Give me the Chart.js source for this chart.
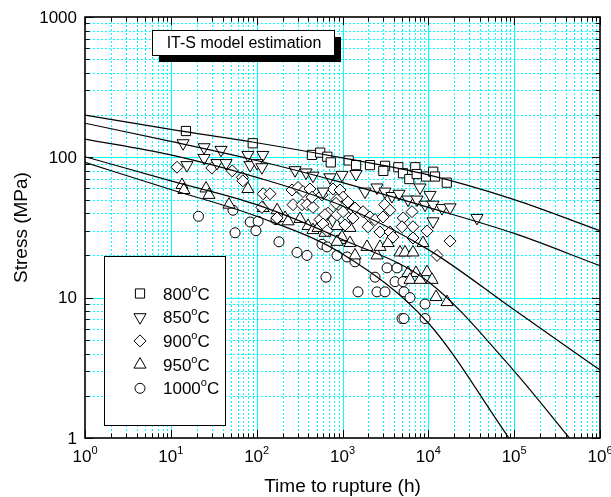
<!DOCTYPE html>
<html>
<head>
<meta charset="utf-8">
<script src="https://cdn.jsdelivr.net/npm/chart.js@4.4.1/dist/chart.umd.min.js"></script>
<style>
  html, body { margin: 0; padding: 0; background: #fff; }
  canvas { display: block; }
</style>
</head>
<body>
<canvas id="creepChart" width="611" height="497"></canvas>
<script>
// temperatures (legend order)
const temps = ["800", "850", "900", "950", "1000"];

// measured rupture data: [time (h), stress (MPa)]
const data800 = [[15, 154], [90, 126], [440, 104], [550, 108], [665, 101], [730, 92], [1180, 95],
  [1440, 88], [2090, 88], [3130, 87], [2990, 80], [4470, 85], [5070, 77], [6000, 70], [7050, 85],
  [7320, 76], [9400, 73], [11400, 79], [11960, 73], [16400, 66]];

const data850 = [[13.9, 126], [24.4, 118], [38.4, 113], [24.4, 99], [15.4, 88], [34.5, 91], [44, 91],
  [79, 104], [118, 104], [84, 88], [101, 91], [115, 85], [280, 81], [376, 78], [453, 74], [715, 72],
  [986, 75], [593, 57], [1436, 76], [1828, 57], [2521, 61], [3127, 57], [3773, 53], [4553, 55],
  [5800, 50], [7380, 50], [8000, 61], [10460, 54], [9150, 46], [11340, 46], [14440, 43.5],
  [17900, 44], [11340, 35], [36900, 37]];

const data900 = [[11.8, 85], [30, 84], [52, 80], [68, 72], [69, 68], [119, 55], [143, 55], [115, 44],
  [173, 37], [258, 58.5], [303, 61], [347, 57], [418, 59.5], [265, 46], [338, 46], [386, 46], [453, 44],
  [441, 52], [577, 54], [678, 40], [547, 36], [626, 39], [593, 33.5], [660, 30], [775, 59.5],
  [935, 58.5], [1014, 52], [863, 50], [863, 39], [1014, 41], [1159, 48], [1326, 42], [840, 47],
  [1070, 33], [1326, 37], [1399, 43.5], [1734, 41], [1983, 32], [2092, 37.6], [2392, 36], [2735, 29.4],
  [3100, 46], [3578, 42], [2965, 37.6], [3578, 29.4], [3877, 27], [5100, 37], [6455, 41], [4935, 32],
  [6630, 32], [6630, 26.6], [9650, 29.8], [17890, 25.3], [12620, 20]];

const data950 = [[13.5, 63.5], [14.2, 58.5], [25.7, 60], [27.8, 54], [47.6, 46], [79, 59.5], [119, 43.5],
  [173, 42], [214, 37], [232, 35], [320, 36.4], [397, 32.4], [453, 30.3], [519, 31.4], [626, 29],
  [678, 32.4], [863, 32.4], [935, 25.8], [986, 27], [1223, 31.4], [863, 25], [1223, 24.5], [1399, 20],
  [1930, 23], [2523, 20], [2735, 23], [3390, 24.5], [4676, 21], [5349, 21], [6630, 21], [8670, 24.5],
  [5800, 15], [7180, 15], [9650, 15.2], [6116, 13.4], [8000, 13.4], [11040, 13.4], [12300, 10.1],
  [16500, 9.3]];

const data1000 = [[21, 38], [53, 42], [56, 29], [84, 34.6], [104, 35], [98, 30], [168, 36], [182, 25],
  [295, 21], [386, 20], [577, 24], [660, 23], [642, 14], [863, 20], [1129, 19.5], [1399, 18], [1516, 11],
  [2392, 14], [2523, 11], [3128, 11], [3302, 16.3], [4315, 16.3], [4091, 13], [5070, 13], [5210, 11],
  [6116, 10], [9150, 9], [4935, 7.1], [5200, 7.1], [9150, 7.1]];

// IT-S model curves: [time (h), stress (MPa)]
const fit800 = [[1, 200], [10, 158], [100, 127], [1000, 99], [1e4, 75], [1e5, 50], [1e6, 30]];
const fit850 = [[1, 175], [10, 130], [100, 95], [1000, 66], [1e4, 44], [1e5, 28.7], [1e6, 16.9]];
const fit900 = [[1, 135], [10, 104], [100, 72], [1000, 45], [1e4, 22], [1e5, 8.2], [1e6, 3.05]];
const fit950 = [[1, 101], [10, 68], [100, 46], [1000, 26], [1e4, 13], [1e5, 3.0], [4.4e5, 1]];
const fit1000 = [[1, 92], [10, 59], [100, 38], [1000, 20.5], [1e4, 6.6], [8.7e4, 1]];

// axis ticks
const xTickExponents = ["0", "1", "2", "3", "4", "5", "6"];
const yTickLabels = ["1", "10", "100", "1000"];

const xTitle = "Time to rupture (h)";
const yTitle = "Stress (MPa)";
const noteText = "IT-S model estimation";

const FONT = '"Liberation Sans", Arial, Helvetica, sans-serif';
const GRID = "#00ffff";

const markers = [
  { pointStyle: "rect", radius: 6.5, rotation: 0 },
  { pointStyle: "triangle", radius: 7, rotation: 180 },
  { pointStyle: "rectRot", radius: 6, rotation: 0 },
  { pointStyle: "triangle", radius: 7, rotation: 0 },
  { pointStyle: "circle", radius: 5, rotation: 0 }
];

const seriesData = [data800, data850, data900, data950, data1000];
const fitData = [fit800, fit850, fit900, fit950, fit1000];

const toXY = arr => arr.map(([x, y]) => ({ x, y }));

function supText(ctx, base, sup, x, y, size, supSize, rise, align) {
  ctx.font = size + "px " + FONT;
  const wb = ctx.measureText(base).width;
  ctx.font = supSize + "px " + FONT;
  const ws = ctx.measureText(sup).width;
  let x0 = x;
  if (align === "center") x0 = x - (wb + ws) / 2;
  ctx.textAlign = "left";
  ctx.textBaseline = "alphabetic";
  ctx.font = size + "px " + FONT;
  ctx.fillText(base, x0, y);
  ctx.font = supSize + "px " + FONT;
  ctx.fillText(sup, x0 + wb, y - rise);
  return x0 + wb + ws;
}

// log tick values 1..9 x 10^d between min and max
function logTicks(min, max) {
  const out = [];
  for (let d = Math.round(Math.log10(min)); Math.pow(10, d) <= max; d++) {
    for (let m = 1; m <= 9; m++) {
      const v = m * Math.pow(10, d);
      if (v >= min && v <= max) out.push({ v, major: m === 1 });
    }
  }
  return out;
}

const plotDecor = {
  id: "plotDecor",
  beforeDatasetsDraw(chart) {
    const { ctx, chartArea: a, scales: { x, y } } = chart;
    ctx.save();
    ctx.strokeStyle = GRID;
    ctx.lineWidth = 1;
    logTicks(x.min, x.max).forEach(t => {
      const px = Math.round(x.getPixelForValue(t.v)) + 0.5;
      if (px <= a.left + 1 || px >= a.right - 1) return;
      ctx.setLineDash(t.major ? [] : [2, 2]);
      ctx.beginPath();
      ctx.moveTo(px, a.top);
      ctx.lineTo(px, a.bottom);
      ctx.stroke();
    });
    logTicks(y.min, y.max).forEach(t => {
      const py = Math.round(y.getPixelForValue(t.v)) + 0.5;
      if (py <= a.top + 1 || py >= a.bottom - 1) return;
      ctx.setLineDash(t.major ? [] : [2, 2]);
      ctx.beginPath();
      ctx.moveTo(a.left, py);
      ctx.lineTo(a.right, py);
      ctx.stroke();
    });
    ctx.restore();
  },
  afterDatasetsDraw(chart) {
    const { ctx, chartArea: a, scales: { x, y } } = chart;
    ctx.save();
    ctx.setLineDash([]);
    ctx.strokeStyle = "#000";
    ctx.fillStyle = "#000";

    // ticks on all four sides, pointing inward
    ctx.lineWidth = 1;
    logTicks(x.min, x.max).forEach(t => {
      const px = Math.round(x.getPixelForValue(t.v)) + 0.5;
      const len = t.major ? 8 : 4.5;
      ctx.beginPath();
      ctx.moveTo(px, a.bottom); ctx.lineTo(px, a.bottom - len);
      ctx.moveTo(px, a.top); ctx.lineTo(px, a.top + len);
      ctx.stroke();
    });
    logTicks(y.min, y.max).forEach(t => {
      const py = Math.round(y.getPixelForValue(t.v)) + 0.5;
      const len = t.major ? 8 : 4.5;
      ctx.beginPath();
      ctx.moveTo(a.left, py); ctx.lineTo(a.left + len, py);
      ctx.moveTo(a.right, py); ctx.lineTo(a.right - len, py);
      ctx.stroke();
    });

    // frame
    ctx.lineWidth = 1.6;
    ctx.strokeRect(a.left, a.top, a.right - a.left, a.bottom - a.top);

    // tick labels
    xTickExponents.forEach(e => {
      const px = x.getPixelForValue(Math.pow(10, Number(e)));
      supText(ctx, "10", e, px, a.bottom + 24, 17, 11, 8, "center");
    });
    ctx.font = "17px " + FONT;
    ctx.textAlign = "right";
    ctx.textBaseline = "middle";
    yTickLabels.forEach(l => {
      ctx.fillText(l, a.left - 8, y.getPixelForValue(Number(l)) + 1);
    });

    // axis titles
    ctx.font = "19px " + FONT;
    ctx.textAlign = "center";
    ctx.textBaseline = "alphabetic";
    ctx.fillText(xTitle, (a.left + a.right) / 2, a.bottom + 54);
    ctx.save();
    ctx.translate(27, (a.top + a.bottom) / 2);
    ctx.rotate(-Math.PI / 2);
    ctx.fillText(yTitle, 0, 0);
    ctx.restore();

    // legend box
    const lx = 104, ly = 256, lw = 121, lh = 169;
    ctx.fillStyle = "#fff";
    ctx.fillRect(lx, ly, lw, lh);
    ctx.lineWidth = 1;
    ctx.strokeStyle = "#000";
    ctx.strokeRect(lx + 0.5, ly + 0.5, lw, lh);
    temps.forEach((t, i) => {
      const ry = 293.5 + i * 23.7;
      ctx.fillStyle = "#fff";
      ctx.strokeStyle = "#000";
      Chart.helpers.drawPoint(ctx, { ...markers[i], borderWidth: 1 }, lx + 36, ry);
      ctx.fillStyle = "#000";
      const xe = supText(ctx, t, "o", lx + 59, ry + 6, 17, 11, 8, "left");
      ctx.font = "17px " + FONT;
      ctx.fillText("C", xe, ry + 6);
    });

    // annotation box with drop shadow
    const nx = 152, ny = 30, nw = 182, nh = 25;
    ctx.fillStyle = "#000";
    ctx.fillRect(nx + 7, ny + 7, nw, nh);
    ctx.fillStyle = "#fff";
    ctx.fillRect(nx, ny, nw, nh);
    ctx.strokeRect(nx + 0.5, ny + 0.5, nw, nh);
    ctx.fillStyle = "#000";
    ctx.font = "16px " + FONT;
    ctx.textAlign = "center";
    ctx.textBaseline = "middle";
    ctx.fillText(noteText, nx + nw / 2 + 1, ny + nh / 2 + 1);

    ctx.restore();
  }
};

const datasets = [];
fitData.forEach((f, i) => {
  datasets.push({
    type: "line",
    label: "fit " + temps[i],
    data: toXY(f),
    borderColor: "#000",
    borderWidth: 1.2,
    pointRadius: 0,
    fill: false,
    cubicInterpolationMode: "monotone",
    order: 0
  });
});
seriesData.forEach((d, i) => {
  datasets.push({
    type: "scatter",
    label: temps[i] + "°C",
    data: toXY(d),
    pointStyle: markers[i].pointStyle,
    pointRadius: markers[i].radius,
    pointRotation: markers[i].rotation,
    backgroundColor: "#fff",
    borderColor: "#000",
    borderWidth: 1,
    order: 1
  });
});

new Chart(document.getElementById("creepChart"), {
  type: "scatter",
  data: { datasets },
  options: {
    responsive: false,
    animation: false,
    events: [],
    layout: { padding: { left: 85, right: 11, top: 17, bottom: 59 } },
    scales: {
      x: { type: "logarithmic", min: 1, max: 1e6, display: false },
      y: { type: "logarithmic", min: 1, max: 1000, display: false }
    },
    plugins: {
      legend: { display: false },
      tooltip: { enabled: false }
    }
  },
  plugins: [plotDecor]
});
</script>
</body>
</html>
